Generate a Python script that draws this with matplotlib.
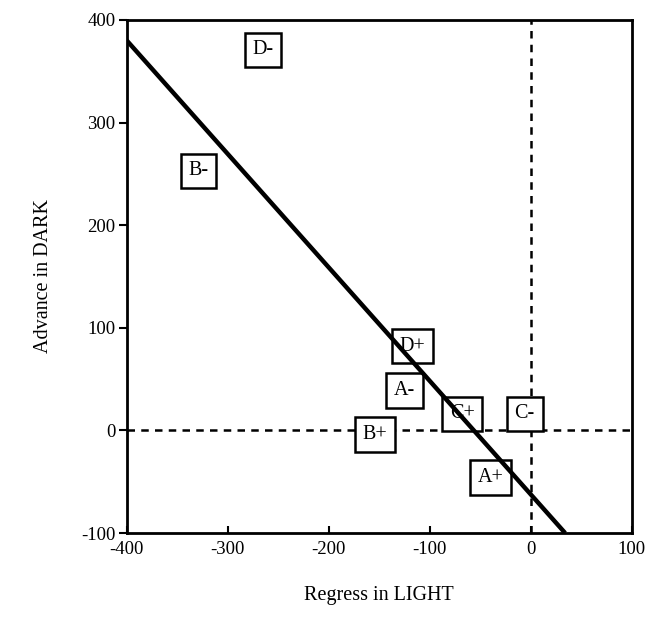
import numpy as np
import matplotlib.pyplot as plt

plt.rcParams['font.family'] = ['Liberation Serif', 'DejaVu Serif']
plt.rcParams['axes.unicode_minus'] = False

# labelled conditions (regress in light, advance in dark)
labels = ["D-", "B-", "D+", "A-", "C+", "C-", "B+", "A+"]
light = [-265, -329, -117, -125, -68, -6, -154, -40]
dark = [371, 253, 82, 39, 16, 16, -4, -46]

# fitted line end points
line_x = [-400, 34]
line_y = [380, -100]

fig = plt.figure(figsize=(6.5, 6.35), dpi=100)
ax = fig.add_axes([0.195, 0.1606, 0.777, 0.808])

ax.plot(line_x, line_y, color="black", lw=3.2, solid_capstyle="butt", zorder=4)
ax.axhline(0, color="black", lw=1.8, ls=(0, (3, 2.5)), zorder=1)
ax.axvline(0, color="black", lw=1.8, ls=(0, (3, 2.5)), zorder=1)

for lab, x, y in zip(labels, light, dark):
    ax.text(x, y, lab, ha="center", va="center", fontsize=14.5,
            bbox=dict(boxstyle="square,pad=0.38", fc="white", ec="black", lw=1.8),
            zorder=3)

ax.set_xlim(-400, 100)
ax.set_ylim(-100, 400)
ax.set_xticks(np.arange(-400, 101, 100))
ax.set_yticks(np.arange(-100, 401, 100))
ax.tick_params(axis="x", direction="in", length=5, width=1.5, labelsize=13.5, pad=6)
ax.tick_params(axis="y", direction="out", length=6, width=1.5, labelsize=13.5, pad=2)
for s in ax.spines.values():
    s.set_linewidth(2)

ax.set_xlabel("Regress in LIGHT", fontsize=14.5, labelpad=20)
ax.set_ylabel("Advance in DARK", fontsize=14.5, labelpad=20)

plt.savefig("out.png")
